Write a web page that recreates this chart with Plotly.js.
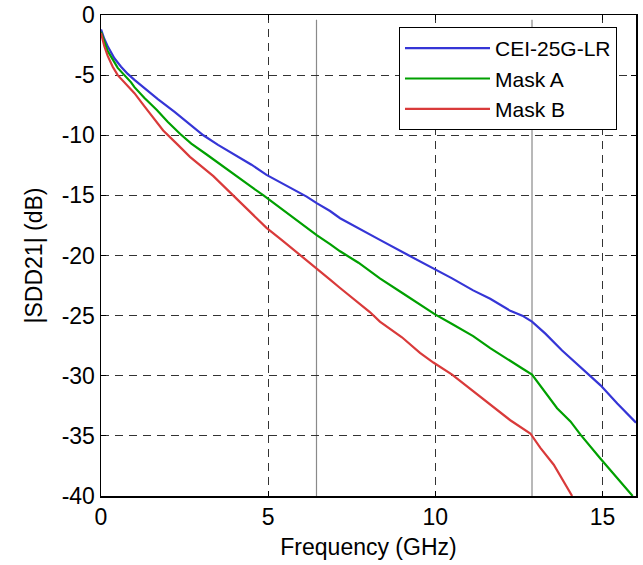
<!DOCTYPE html>
<html><head><meta charset="utf-8">
<script src="https://cdn.plot.ly/plotly-3.0.1.min.js"></script>
<style>html,body{margin:0;padding:0;background:#fff}</style>
</head><body><div id="chart" style="width:643px;height:565px"></div>
<script>
// Data
const seriesNames = ["CEI-25G-LR", "Mask A", "Mask B"];

const freqCEI = [0, 0.1, 0.2, 0.4, 0.6, 0.8, 1.0, 1.3, 1.7, 2.2, 2.6, 3.06, 3.5, 4.06, 4.5, 4.95, 5.5, 6.15, 6.45, 6.85, 7.15, 7.7, 8.34, 9.14, 9.84, 10.5, 11.13, 11.64, 12.24, 12.6, 12.89, 13.29, 13.79, 14.34, 14.94, 15.44, 16.0];
const sddCEI  = [-1.2, -2.0, -2.6, -3.6, -4.3, -4.9, -5.4, -6.1, -7.0, -8.05, -8.95, -10.0, -10.8, -11.7, -12.45, -13.3, -14.1, -15.1, -15.65, -16.3, -16.9, -17.7, -18.7, -19.9, -20.9, -21.9, -22.9, -23.6, -24.6, -25.0, -25.5, -26.5, -27.9, -29.25, -30.8, -32.3, -33.9];

const freqMaskA = [0, 0.1, 0.2, 0.5, 0.67, 0.9, 1.0, 1.3, 1.67, 2.0, 2.37, 2.7, 3.16, 3.6, 4.06, 4.5, 4.86, 5.5, 6.45, 6.85, 7.15, 7.7, 8.34, 9.0, 9.64, 9.99, 10.5, 11.13, 11.64, 12.24, 12.6, 12.89, 13.24, 13.64, 14.04, 14.34, 14.94, 15.44, 15.9];
const sddMaskA  = [-1.4, -2.3, -3.0, -4.4, -4.9, -5.6, -6.0, -6.9, -7.9, -8.9, -9.9, -10.7, -11.6, -12.5, -13.45, -14.3, -15.0, -16.35, -18.3, -19.05, -19.65, -20.6, -21.9, -23.1, -24.25, -24.9, -25.7, -26.7, -27.7, -28.8, -29.4, -29.9, -31.2, -32.7, -33.8, -34.9, -36.9, -38.5, -40.0];

const freqMaskB = [0, 0.1, 0.2, 0.35, 0.5, 0.7, 1.0, 1.3, 1.6, 1.86, 2.3, 2.66, 3.36, 3.95, 4.55, 4.95, 5.4, 5.85, 6.45, 6.85, 7.15, 8.04, 8.34, 9.0, 9.54, 9.94, 10.5, 11.0, 11.44, 12.24, 12.84, 13.14, 13.54, 14.09];
const sddMaskB  = [-1.5, -2.6, -3.4, -4.3, -5.0, -5.6, -6.5, -7.6, -8.7, -9.6, -10.8, -11.8, -13.4, -15.0, -16.6, -17.7, -18.7, -19.7, -21.05, -22.0, -22.7, -24.7, -25.5, -26.8, -28.1, -28.9, -29.9, -31.0, -32.0, -33.7, -34.8, -36.0, -37.4, -40.0];

// Reference frequencies marked by grey vertical lines (GHz)
const refFreqs = [6.445, 12.89];

const xTicks = [0, 5, 10, 15];
const yTicks = [0, -5, -10, -15, -20, -25, -30, -35, -40];

const colors = ["#3535d6", "#00a000", "#d93a3a"];
const xs = [freqCEI, freqMaskA, freqMaskB];
const ys = [sddCEI, sddMaskA, sddMaskB];

const traces = seriesNames.map((name, i) => ({
  type: "scatter", mode: "lines", name: name,
  x: xs[i], y: ys[i],
  line: {color: colors[i], width: 2.2, shape: "linear"}
}));

const shapes = refFreqs.map(f => ({
  type: "line", xref: "x", yref: "paper", x0: f, x1: f, y0: 0, y1: 0.99,
  line: {color: "#8a8a8a", width: 1.2}, layer: "below"
}));

const font = {family: "Liberation Sans, Arial, sans-serif", size: 23, color: "#000"};
const legendFont = {family: "Liberation Sans, Arial, sans-serif", size: 21, color: "#000"};

const layout = {
  width: 643, height: 565,
  margin: {l: 101, r: 7, t: 15, b: 69, pad: 0},
  paper_bgcolor: "#fff", plot_bgcolor: "#fff",
  font: font,
  showlegend: true,
  legend: {
    x: 0.557, xanchor: "left", y: 0.975, yanchor: "top",
    bgcolor: "#fff", bordercolor: "#000", borderwidth: 1,
    font: legendFont, itemwidth: 85, tracegroupgap: 0
  },
  xaxis: {
    range: [0, 16], tickvals: xTicks, ticktext: xTicks.map(String),
    showline: true, linecolor: "#000", linewidth: 1.5, mirror: "ticks",
    ticks: "inside", ticklen: 5, tickcolor: "#000",
    showgrid: true, gridcolor: "#333", griddash: "8px,6px", gridwidth: 1,
    zeroline: false, tickfont: font,
    title: {text: "Frequency (GHz)", font: font, standoff: 10}
  },
  yaxis: {
    range: [-40, 0], tickvals: yTicks, ticktext: yTicks.map(String),
    showline: true, linecolor: "#000", linewidth: 1.5, mirror: "ticks",
    ticks: "inside", ticklen: 5, tickcolor: "#000",
    showgrid: true, gridcolor: "#333", griddash: "8px,6px", gridwidth: 1,
    zeroline: false, tickfont: font,
    title: {text: "|SDD21| (dB)", font: font, standoff: 12}
  },
  shapes: shapes
};

Plotly.newPlot("chart", traces, layout, {displayModeBar: false, staticPlot: true});
</script>
</body></html>
